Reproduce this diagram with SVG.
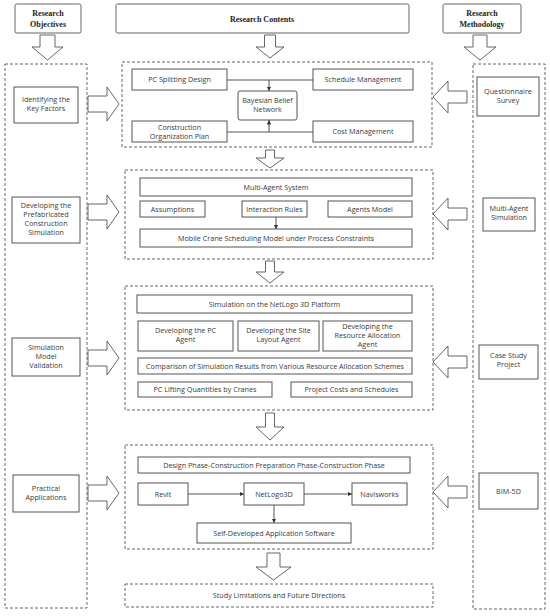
<svg xmlns="http://www.w3.org/2000/svg" width="550" height="616" viewBox="0 0 550 616">
<defs>
<style>
.bg{fill:#fff}
.box{fill:#fff;stroke:#555;stroke-width:1}
.hdr{fill:#fff;stroke:#666;stroke-width:1}
.dash{fill:none;stroke:#555;stroke-width:0.9;stroke-dasharray:3,2}
.arr{fill:#fff;stroke:#555;stroke-width:0.9}
.ln{fill:none;stroke:#444;stroke-width:0.9}
text{font-family:"Open Sans","Noto Sans",sans-serif;font-size:7.2px;fill:#3a3a3a;text-anchor:middle}
text.h{font-family:"Liberation Serif","Times New Roman",serif;font-weight:bold;font-size:8px;fill:#222}
</style>
<marker id="ah" viewBox="0 0 6 6" refX="6" refY="3" markerWidth="5" markerHeight="5" orient="auto">
<path d="M0,0 L6,3 L0,6 Z" fill="#333"/>
</marker>
</defs>
<rect class="bg" x="0" y="0" width="550" height="616"/>

<!-- Headers -->
<g id="hdr-objectives">
<rect class="hdr" x="15" y="4" width="66" height="29" rx="1.5"/>
<text class="h" x="48" y="16">Research</text>
<text class="h" x="48" y="27">Objectives</text>
</g>
<g id="hdr-contents">
<rect class="hdr" x="116" y="4" width="293" height="29" rx="1.5"/>
<text class="h" x="262" y="21.5">Research Contents</text>
</g>
<g id="hdr-methodology">
<rect class="hdr" x="443" y="4" width="78" height="29" rx="1.5"/>
<text class="h" x="482" y="16">Research</text>
<text class="h" x="482" y="27">Methodology</text>
</g>

<!-- Columns -->
<g id="col-objectives">
<rect class="dash" x="5" y="64" width="82" height="544"/>
</g>
<g id="col-methodology">
<rect class="dash" x="473" y="64" width="72" height="545"/>
</g>

<!-- Section 1 -->
<g id="sec1">
<rect class="dash" x="122" y="62" width="310" height="85"/>
</g>
<g id="n-pcsplit"><rect class="box" x="132" y="69" width="95" height="21"/><text x="179.5" y="82">PC Splitting Design</text></g>
<g id="n-schedule"><rect class="box" x="313" y="69" width="100" height="21"/><text x="363" y="82">Schedule Management</text></g>
<g id="n-bbn"><rect class="box" x="238" y="91" width="59" height="29" rx="2"/><text x="267.5" y="103">Bayesian Belief</text><text x="267.5" y="112">Network</text></g>
<g id="n-cop"><rect class="box" x="132" y="121" width="95" height="21"/><text x="179.5" y="129.5">Construction</text><text x="179.5" y="138.5">Organization Plan</text></g>
<g id="n-cost"><rect class="box" x="313" y="121" width="100" height="21"/><text x="363" y="134">Cost Management</text></g>

<!-- Section 2 -->
<g id="sec2"><rect class="dash" x="125" y="170" width="308" height="89"/></g>
<g id="n-mas"><rect class="box" x="140" y="178" width="272" height="18"/><text x="276" y="189.5">Multi-Agent System</text></g>
<g id="n-assump"><rect class="box" x="140" y="201" width="65" height="16"/><text x="172.5" y="211.5">Assumptions</text></g>
<g id="n-rules"><rect class="box" x="242" y="201" width="65" height="16"/><text x="274.5" y="211.5">Interaction Rules</text></g>
<g id="n-agents"><rect class="box" x="328" y="201" width="84" height="16"/><text x="370" y="211.5">Agents Model</text></g>
<g id="n-crane"><rect class="box" x="140" y="229" width="272" height="18"/><text x="276" y="240.5">Mobile Crane Scheduling Model under Process Constraints</text></g>

<!-- Section 3 -->
<g id="sec3"><rect class="dash" x="125" y="286" width="308" height="124"/></g>
<g id="n-netlogo-platform"><rect class="box" x="137" y="295" width="275" height="18"/><text x="274.5" y="306.5">Simulation on the NetLogo 3D Platform</text></g>
<g id="n-pcagent"><rect class="box" x="138" y="321" width="95" height="30"/><text x="185.5" y="333">Developing the PC</text><text x="185.5" y="342">Agent</text></g>
<g id="n-siteagent"><rect class="box" x="238" y="321" width="81" height="30"/><text x="278.5" y="333">Developing the Site</text><text x="278.5" y="342">Layout Agent</text></g>
<g id="n-resagent"><rect class="box" x="323" y="321" width="89" height="30"/><text x="367.5" y="329">Developing the</text><text x="367.5" y="338">Resource Allocation</text><text x="367.5" y="347">Agent</text></g>
<g id="n-compare"><rect class="box" x="138" y="358" width="274" height="16"/><text x="275" y="368.5">Comparison of Simulation Results from Various Resource Allocation Schemes</text></g>
<g id="n-lifting"><rect class="box" x="138" y="382" width="134" height="15"/><text x="205" y="392">PC Lifting Quantities by Cranes</text></g>
<g id="n-costs"><rect class="box" x="291" y="382" width="121" height="15"/><text x="351.5" y="392">Project Costs and Schedules</text></g>

<!-- Section 4 -->
<g id="sec4"><rect class="dash" x="125" y="445" width="308" height="104"/></g>
<g id="n-phases"><rect class="box" x="138" y="457" width="272" height="16"/><text x="274" y="467.5">Design Phase-Construction Preparation Phase-Construction Phase</text></g>
<g id="n-revit"><rect class="box" x="138" y="483" width="50" height="22"/><text x="163" y="496.5">Revit</text></g>
<g id="n-netlogo3d"><rect class="box" x="244" y="483" width="60" height="22"/><text x="274" y="496.5">NetLogo3D</text></g>
<g id="n-navis"><rect class="box" x="352" y="483" width="55" height="22"/><text x="379.5" y="496.5">Navisworks</text></g>
<g id="n-selfdev"><rect class="box" x="197" y="523" width="154" height="20"/><text x="274" y="535.5">Self-Developed Application Software</text></g>

<!-- Study limitations -->
<g id="n-study"><rect class="dash" x="125" y="584" width="308" height="23"/><text x="279" y="598">Study Limitations and Future Directions</text></g>

<!-- Objectives -->
<g id="n-identify"><rect class="box" x="14" y="87" width="64" height="36"/><text x="46" y="102">Identifying the</text><text x="46" y="111">Key Factors</text></g>
<g id="n-developing"><rect class="box" x="12" y="197" width="68" height="46"/><text x="46" y="208">Developing the</text><text x="46" y="217">Prefabricated</text><text x="46" y="226">Construction</text><text x="46" y="235">Simulation</text></g>
<g id="n-validation"><rect class="box" x="12" y="338" width="68" height="38"/><text x="46" y="350">Simulation</text><text x="46" y="359">Model</text><text x="46" y="368">Validation</text></g>
<g id="n-practical"><rect class="box" x="13" y="475" width="66" height="37"/><text x="46" y="491">Practical</text><text x="46" y="500">Applications</text></g>

<!-- Methodology -->
<g id="n-questionnaire"><rect class="box" x="477" y="77" width="62" height="39"/><text x="508" y="94">Questionnaire</text><text x="508" y="103">Survey</text></g>
<g id="n-masim"><rect class="box" x="483" y="198" width="52" height="33"/><text x="509" y="211">Multi-Agent</text><text x="509" y="220">Simulation</text></g>
<g id="n-casestudy"><rect class="box" x="479" y="345" width="59" height="34"/><text x="508.5" y="358">Case Study</text><text x="508.5" y="367">Project</text></g>
<g id="n-bim"><rect class="box" x="479" y="473" width="59" height="36"/><text x="508.5" y="493.5">BIM-5D</text></g>

<!-- Connectors -->
<g id="connectors">
<!-- header down arrows -->
<polygon class="arr" points="40,35 55,35 55,47 63,47 47.5,60 32,47 40,47"/>
<polygon class="arr" points="264.5,35 275.5,35 275.5,47 284,47 270,58 256,47 264.5,47"/>
<polygon class="arr" points="473,35 487,35 487,47 496,47 480,60 464,47 473,47"/>
<!-- section down arrows -->
<polygon class="arr" points="265.5,150 274.5,150 274.5,158 284,158 270,168 256,158 265.5,158"/>
<polygon class="arr" points="265.5,261 274.5,261 274.5,272 284,272 270,283 256,272 265.5,272"/>
<polygon class="arr" points="265.5,413 274.5,413 274.5,427 284,427 270,440 256,427 265.5,427"/>
<polygon class="arr" points="267,553 280,553 280,567 291,567 273.5,580 256,567 267,567"/>
<!-- left arrows -->
<polygon class="arr" points="88,96 107,96 107,87 119,104 107,121 107,112 88,112"/>
<polygon class="arr" points="88,204 107,204 107,195 119,212 107,229 107,220 88,220"/>
<polygon class="arr" points="88,350 107,350 107,341 119,358 107,375 107,366 88,366"/>
<polygon class="arr" points="88,485 107,485 107,476 119,493 107,510 107,501 88,501"/>
<!-- right arrows -->
<polygon class="arr" points="467,91 448,91 448,81 433,97 448,113 448,103 467,103"/>
<polygon class="arr" points="467,208 448,208 448,198 433,214 448,230 448,220 467,220"/>
<polygon class="arr" points="467,356 448,356 448,346 433,362 448,378 448,368 467,368"/>
<polygon class="arr" points="467,486 448,486 448,476 433,492 448,508 448,498 467,498"/>
<!-- section 1 lines -->
<path class="ln" d="M227,80 H313"/>
<path class="ln" d="M269,80 V91" marker-end="url(#ah)"/>
<path class="ln" d="M227,132 H313"/>
<path class="ln" d="M269,132 V120" marker-end="url(#ah)"/>
<!-- section 2 -->
<path class="ln" d="M276,217 V229" marker-end="url(#ah)"/>
<!-- section 4 -->
<path class="ln" d="M188,494 H244" marker-end="url(#ah)"/>
<path class="ln" d="M304,494 H352" marker-end="url(#ah)"/>
<path class="ln" d="M274,505 V523" marker-end="url(#ah)"/>
</g>
</svg>
